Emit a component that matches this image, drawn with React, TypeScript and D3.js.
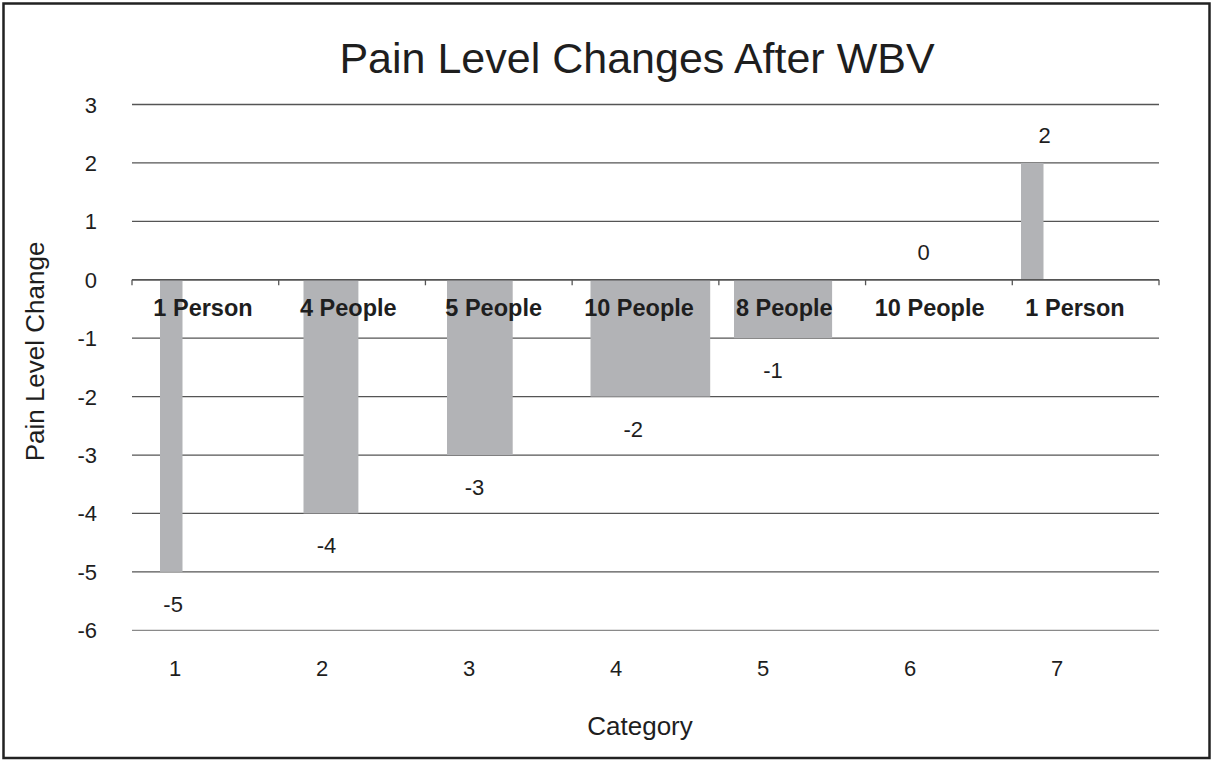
import React from "react";
import * as d3 from "d3";

const categories = [1, 2, 3, 4, 5, 6, 7];
const painChange = [-5, -4, -3, -2, -1, 0, 2];
const groupLabels = ["1 Person", "4 People", "5 People", "10 People", "8 People", "10 People", "1 Person"];
const groupSize = [1, 4, 5, 10, 8, 10, 1];
const yTicks = [3, 2, 1, 0, -1, -2, -3, -4, -5, -6];

const W = 1211;
const H = 760;
const FONT = "'Liberation Sans', Arial, Helvetica, sans-serif";
const TEXT = "#1e1e1e";

export default function App() {
  const plotLeft = 132;
  const plotRight = 1159;
  const y = d3.scaleLinear().domain([-6, 3]).range([630.3, 104.5]);
  const band = d3.scaleBand<number>().domain(categories).range([plotLeft, plotRight]).padding(0);
  // category number positions (tick labels)
  const xTick = d3.scaleLinear().domain([1, 7]).range([175, 1057]);
  // group label centres
  const xGroup = d3.scaleLinear().domain([1, 7]).range([203, 1075]);
  // bar left edges
  const xBar = d3.scaleLinear().domain([1, 7]).range([160, 1021]);
  // bar width encodes group size
  const wScale = d3.scaleLinear().domain([0, 10]).range([11.7, 119.7]);

  const boundaries = categories.map((c) => band(c) as number).concat([plotRight]);

  return (
    <svg width={W} height={H} style={{ position: "absolute", left: 0, top: 0, background: "#fff" }}>
      <rect x={3.5} y={3.5} width={W - 5} height={H - 5.5} fill="#fff" stroke="#222" strokeWidth={2.5} />
      <text x={637} y={73} textAnchor="middle" fontFamily={FONT} fontSize={43} fill={TEXT}>
        Pain Level Changes After WBV
      </text>

      {/* gridlines */}
      {yTicks.map((t) => (
        <line
          key={"g" + t}
          x1={plotLeft}
          x2={plotRight}
          y1={y(t)}
          y2={y(t)}
          stroke={t === -6 ? "#8a8a8a" : "#555"}
          strokeWidth={1.3}
        />
      ))}

      {/* bars */}
      {categories.map((c, i) => {
        const v = painChange[i];
        const x0 = xBar(c);
        const w = wScale(groupSize[i]);
        if (v === 0) return null;
        return (
          <rect
            key={"b" + c}
            x={x0}
            y={Math.min(y(v), y(0))}
            width={w}
            height={Math.abs(y(v) - y(0))}
            fill="#b2b3b6"
          />
        );
      })}

      {/* zero axis line with ticks */}
      <line x1={plotLeft} x2={plotRight} y1={y(0)} y2={y(0)} stroke="#555" strokeWidth={1.3} />
      {boundaries.map((b, i) => (
        <line key={"t" + i} x1={b} x2={b} y1={y(0)} y2={y(0) + 5.5} stroke="#555" strokeWidth={1.3} />
      ))}

      {/* y tick labels */}
      {yTicks.map((t) => (
        <text
          key={"yl" + t}
          x={97}
          y={y(t) + 8}
          textAnchor="end"
          fontFamily={FONT}
          fontSize={22}
          fill={TEXT}
        >
          {t}
        </text>
      ))}

      {/* x tick labels */}
      {categories.map((c) => (
        <text key={"xl" + c} x={xTick(c)} y={676} textAnchor="middle" fontFamily={FONT} fontSize={22} fill={TEXT}>
          {c}
        </text>
      ))}

      {/* group labels */}
      {categories.map((c, i) => (
        <text
          key={"gl" + c}
          x={xGroup(c)}
          y={316}
          textAnchor="middle"
          fontFamily={FONT}
          fontSize={23.5}
          fontWeight="bold"
          fill={TEXT}
        >
          {groupLabels[i]}
        </text>
      ))}

      {/* value labels */}
      {categories.map((c, i) => {
        const v = painChange[i];
        const barCenter = xBar(c) + wScale(groupSize[i]) / 2;
        const lx = (barCenter + xTick(c)) / 2;
        const ly = v < 0 ? y(v) + 40 : y(v) - 20;
        return (
          <text key={"vl" + c} x={lx} y={ly} textAnchor="middle" fontFamily={FONT} fontSize={22} fill={TEXT}>
            {v}
          </text>
        );
      })}

      {/* axis titles */}
      <text x={640} y={735} textAnchor="middle" fontFamily={FONT} fontSize={26} fill={TEXT}>
        Category
      </text>
      <text
        transform={`translate(43.5, 351.5) rotate(-90)`}
        textAnchor="middle"
        fontFamily={FONT}
        fontSize={26}
        fill={TEXT}
      >
        Pain Level Change
      </text>
    </svg>
  );
}
